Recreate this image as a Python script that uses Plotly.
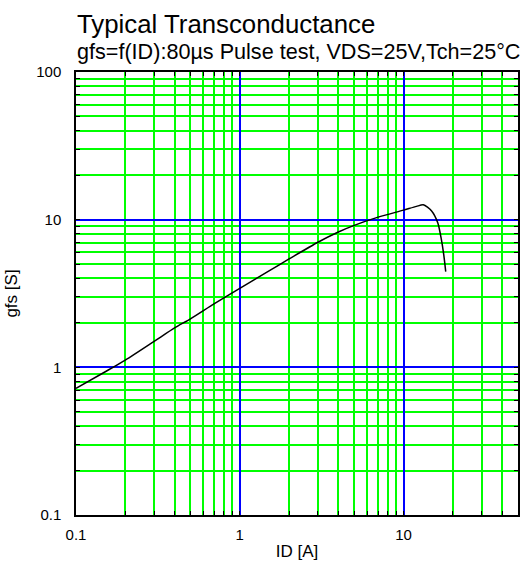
import numpy as np
import plotly.graph_objects as go

# Data
id_a = [0.1, 0.15, 0.2, 0.3, 0.4, 0.5, 0.7, 1.0, 1.5, 2.0, 3.0, 4.0, 5.0, 7.0,
        10.0, 12.0, 13.2, 14.8, 16.2, 17.0, 17.6, 18.1]
gfs_s = [0.72, 0.93, 1.12, 1.50, 1.85, 2.13, 2.70, 3.43, 4.48, 5.42, 7.03, 8.25, 9.15, 10.4,
         11.6, 12.3, 12.6, 11.5, 9.5, 7.4, 5.8, 4.45]

x_tick_vals = [0.1, 1, 10]
x_tick_text = ["0.1", "1", "10"]
y_tick_vals = [0.1, 1, 10, 100]
y_tick_text = ["0.1", "1", "10", "100"]
x_minor_vals = [m * d for d in (0.1, 1, 10) for m in range(2, 10) if m * d <= 50]
y_minor_vals = [m * d for d in (0.1, 1, 10) for m in range(2, 10)]

title_text = "Typical Transconductance"
subtitle_text = "gfs=f(ID):80µs Pulse test, VDS=25V,Tch=25°C"
x_title = "ID [A]"
y_title = "gfs [S]"

FONT = "Liberation Sans, Arial, sans-serif"

fig = go.Figure()
fig.add_trace(go.Scatter(x=id_a, y=gfs_s, mode="lines",
                         line=dict(color="black", width=1.5, shape="spline", smoothing=0.7),
                         showlegend=False, hoverinfo="skip"))

axis_common = dict(
    type="log", automargin=False,
    showline=True, linecolor="black", linewidth=1.5, mirror="allticks",
    ticks="inside", ticklen=4, tickcolor="black", tickwidth=1,
    showgrid=True, gridcolor="#0000ff", gridwidth=1.5,
    zeroline=False,
    tickfont=dict(family=FONT, size=15, color="black"),
)

fig.update_xaxes(**axis_common, range=[-1, np.log10(50)],
                 tickmode="array", tickvals=x_tick_vals, ticktext=x_tick_text,
                 minor=dict(tickmode="array", tickvals=x_minor_vals, showgrid=True,
                            gridcolor="#00ff00", gridwidth=1.5,
                            ticks="inside", ticklen=4, tickcolor="black"),
                 title=dict(text=x_title, font=dict(family=FONT, size=17, color="black"), standoff=3),
                 ticklabelstandoff=5)
fig.update_yaxes(**axis_common, range=[-1, 2],
                 tickmode="array", tickvals=y_tick_vals, ticktext=y_tick_text,
                 minor=dict(tickmode="array", tickvals=y_minor_vals, showgrid=True,
                            gridcolor="#00ff00", gridwidth=1.5,
                            ticks="inside", ticklen=4, tickcolor="black"),
                 title=dict(text=y_title, font=dict(family=FONT, size=17, color="black"), standoff=14),
                 ticklabelstandoff=10)

# body margin is removed in the page, so figure pixels == window pixels
fig.update_layout(
    width=523, height=576,
    margin=dict(l=76, r=5, t=72, b=61, autoexpand=False),
    plot_bgcolor="white", paper_bgcolor="white",
    font=dict(family=FONT, color="black"),
    annotations=[
        dict(text=title_text, xref="paper", yref="paper", x=0.0, y=1 + (72 - 24) / 443,
             xanchor="left", yanchor="middle", showarrow=False, xshift=-1,
             font=dict(family=FONT, size=25.8, color="black")),
        dict(text=subtitle_text, xref="paper", yref="paper", x=0.0, y=1 + (72 - 51) / 443,
             xanchor="left", yanchor="middle", showarrow=False, xshift=-1,
             font=dict(family=FONT, size=21.6, color="black")),
    ],
)

fig.write_html(
    "out.html",
    config={"displayModeBar": False},
    post_script=("document.documentElement.style.overflow='hidden';"
                 "document.body.style.overflow='hidden';"
                 "document.body.style.margin='0';"),
)
